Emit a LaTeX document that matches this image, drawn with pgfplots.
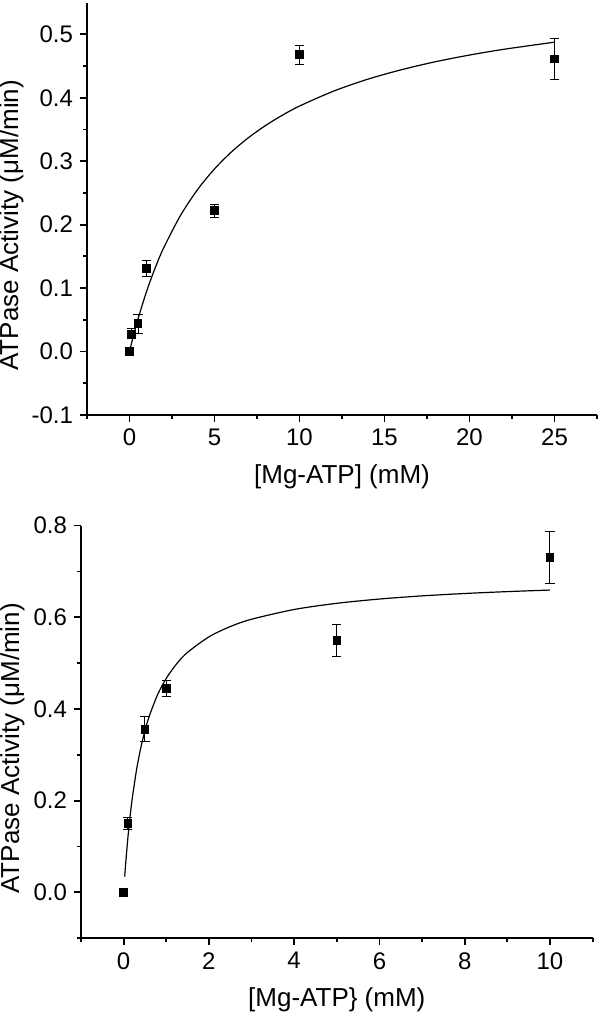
\documentclass[border=0pt]{standalone}
\usepackage{fontspec}
\setmainfont{Liberation Sans}
\usepackage{pgfplots}
\pgfplotsset{compat=1.18}

\pgfplotsset{
  kin/.style={
    scale only axis, anchor=south west,
    axis x line=bottom, axis y line=left,
    axis line style={-, line width=0.9pt},
    tick align=outside,
    major tick length=3.5pt, minor tick length=2pt,
    every tick/.style={black, line width=0.9pt},
    xticklabel style={font=\fontsize{12}{14}\selectfont},
    yticklabel style={font=\fontsize{12}{14}\selectfont,
      /pgf/number format/.cd, fixed, fixed zerofill, precision=1},
    label style={font=\fontsize{13}{15}\selectfont},
    /pgf/number format/assume math mode=true,
    ylabel={ATPase Activity (μM/min)},
    xlabel style={at={(axis description cs:0.5,0)}, anchor=center, yshift=-31pt},
    clip=false,
  },
  pts/.style={only marks, mark=square*, mark size=1.9pt, black,
    error bars/.cd, y dir=both, y explicit,
    error bar style={line width=0.5pt, black},
    error mark options={rotate=90, line width=0.5pt, mark size=2.3pt}},
  fit/.style={no marks, black, line width=0.6pt, smooth},
}

\begin{document}
\begin{tikzpicture}
\useasboundingbox (0,0) rectangle (300pt,507.5pt);

% top: 0 - 25 mM
\begin{axis}[kin,
  at={(43.5pt,300pt)}, width=255pt, height=206.2pt,
  xmin=-2.5, xmax=27.5, ymin=-0.1, ymax=0.55,
  xtick={0,5,10,15,20,25},
  minor xtick={-2.5,2.5,7.5,12.5,17.5,22.5,27.5},
  ytick={-0.1,0,0.1,0.2,0.3,0.4,0.5},
  minor ytick={-0.05,0.05,0.15,0.25,0.35,0.45},
  xlabel={[Mg-ATP] (mM)},
  ylabel style={at={(axis description cs:-0.148,0.46)}, anchor=center},
]
\addplot[fit] coordinates {
  (0,0) (0.25,0.0268) (0.5,0.0513) (1,0.0944) (1.5,0.1311) (2,0.1628)
  (3,0.2145) (4,0.2551) (5,0.2878) (6,0.3147) (7,0.3371) (8,0.3562)
  (9,0.3726) (10,0.3869) (12,0.4104) (14,0.4291) (16,0.4442)
  (18,0.4568) (20,0.4673) (22,0.4763) (25,0.4876)
};
\addplot[pts] coordinates {
  (0,0) +- (0,0)
  (0.1,0.028) +- (0,0.008)
  (0.5,0.044) +- (0,0.015)
  (1,0.131) +- (0,0.013)
  (5,0.222) +- (0,0.010)
  (10,0.468) +- (0,0.015)
  (25,0.461) +- (0,0.032)
};
\end{axis}

% bottom: 0 - 10 mM
\begin{axis}[kin,
  at={(40.5pt,38.4pt)}, width=255.8pt, height=206.3pt,
  xmin=-1, xmax=11, ymin=-0.1, ymax=0.8,
  xtick={0,2,4,6,8,10},
  minor xtick={-1,1,3,5,7,9,11},
  ytick={0,0.2,0.4,0.6,0.8},
  minor ytick={-0.1,0.1,0.3,0.5,0.7},
  xlabel={[Mg-ATP\} (mM)},
  ylabel style={at={(axis description cs:-0.134,0.46)}, anchor=center},
]
\addplot[fit] coordinates {
  (0.025,0.0342) (0.05,0.0652) (0.1,0.1191) (0.15,0.1645) (0.2,0.2032)
  (0.3,0.2658) (0.4,0.3141) (0.5,0.3526) (0.6,0.3839) (0.8,0.4319)
  (1,0.4669) (1.25,0.4993) (1.5,0.5235) (2,0.5573) (2.5,0.5797)
  (3,0.5957) (4,0.6170) (5,0.6305) (6,0.6398) (7,0.6467) (8,0.6519)
  (9,0.6560) (10,0.6594)
};
\addplot[pts] coordinates {
  (0,0) +- (0,0)
  (0.1,0.150) +- (0,0.013)
  (0.5,0.356) +- (0,0.028)
  (1,0.445) +- (0,0.018)
  (5,0.549) +- (0,0.035)
  (10,0.731) +- (0,0.057)
};
\end{axis}
\end{tikzpicture}
\end{document}
